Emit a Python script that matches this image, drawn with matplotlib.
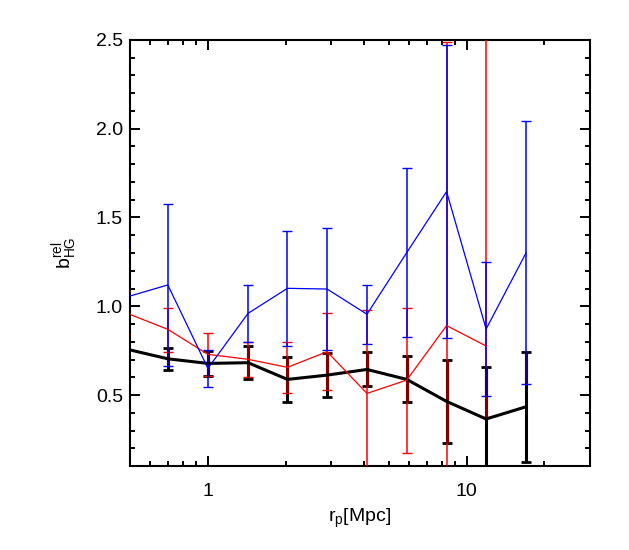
import numpy as np
import matplotlib
matplotlib.use('Agg')
import matplotlib.pyplot as plt
from matplotlib.ticker import FixedLocator, MultipleLocator, LogLocator, NullFormatter

plt.rcParams['font.family'] = ['Liberation Sans', 'DejaVu Sans']

# projected separation bins [Mpc]
rp = [0.48, 0.70, 1.00, 1.43, 2.03, 2.89, 4.12, 5.87, 8.37, 11.9, 17.0]

# black sample
b_black = [0.760, 0.704, 0.678, 0.682, 0.588, 0.612, 0.644, 0.588, 0.464, 0.365, 0.434]
e_black = [0.06, 0.063, 0.07, 0.092, 0.128, 0.125, 0.096, 0.13, 0.232, 0.295, 0.31]

# red sample (no value in the last bin)
b_red = [0.964, 0.870, 0.729, 0.701, 0.656, 0.744, 0.509, 0.584, 0.891, 0.776]
e_red_lo = [0.12, 0.125, 0.122, 0.102, 0.147, 0.213, 0.47, 0.41, 1.6, 0.4]
e_red_hi = [0.12, 0.119, 0.122, 0.096, 0.141, 0.216, 0.47, 0.408, 1.6, 2.0]

# blue sample
b_blue = [1.050, 1.120, 0.650, 0.960, 1.101, 1.097, 0.955, 1.302, 1.646, 0.872, 1.302]
e_blue = [0.3, 0.455, 0.104, 0.16, 0.325, 0.346, 0.165, 0.475, 0.826, 0.375, 0.742]

fig = plt.figure(figsize=(6.29, 5.5), dpi=100)
ax = fig.add_axes([0.2067, 0.1527, 0.7313, 0.7746])

BLACK_W = 2.2


# darken the part of a coloured bar that lies on top of the thick black bar
def shade_overlap(x, y, lo, hi, dark):
    n = len(y)
    blo = np.array(b_black[:n]) - np.array(e_black[:n])
    bhi = np.array(b_black[:n]) + np.array(e_black[:n])
    top = np.minimum(np.array(y) + np.array(hi), bhi)
    bot = np.maximum(np.array(y) - np.array(lo), blo)
    ok = top > bot
    ax.vlines(np.array(x[:n])[ok], bot[ok], top[ok], colors=[dark], lw=BLACK_W, zorder=5)


ax.errorbar(rp, b_black, yerr=e_black, fmt='none', ecolor='black', elinewidth=BLACK_W,
            capsize=3.4, capthick=2.0, zorder=2)
ax.errorbar(rp[:len(b_red)], b_red, yerr=[e_red_lo, e_red_hi], fmt='none', ecolor='red',
            elinewidth=1.1, capsize=3.4, capthick=1.0, zorder=3)
ax.errorbar(rp, b_blue, yerr=e_blue, fmt='none', ecolor='blue', elinewidth=1.1,
            capsize=3.4, capthick=1.0, zorder=4)
shade_overlap(rp, b_red, e_red_lo, e_red_hi, (0.5, 0, 0))
shade_overlap(rp, b_blue, e_blue, e_blue, (0.1, 0, 0.5))

ax.plot(rp, b_black, color='black', lw=BLACK_W, zorder=6)
ax.plot(rp[:len(b_red)], b_red, color='red', lw=0.9, zorder=7)
ax.plot(rp, b_blue, color='blue', lw=0.9, zorder=8)

ax.set_xscale('log')
ax.set_xlim(0.5, 30)
ax.set_ylim(0.1, 2.5)

ax.xaxis.set_major_locator(FixedLocator([1, 10]))
ax.xaxis.set_minor_locator(LogLocator(base=10, subs=np.arange(2, 10)))
ax.xaxis.set_minor_formatter(NullFormatter())
ax.set_xticklabels(['1', '10'])
ax.yaxis.set_major_locator(FixedLocator([0.5, 1.0, 1.5, 2.0, 2.5]))
ax.yaxis.set_minor_locator(MultipleLocator(0.1))
ax.set_yticklabels(['0.5', '1.0', '1.5', '2.0', '2.5'])

ax.tick_params(which='both', direction='in', top=True, right=True, width=1.4, labelsize=14)
ax.tick_params(which='major', length=7)
ax.tick_params(which='minor', length=3.5)
ax.tick_params(axis='x', which='major', pad=12)
ax.tick_params(axis='y', which='major', pad=5)
for s in ax.spines.values():
    s.set_linewidth(1.5)

ax.set_xlabel(r'$\mathregular{r_p [Mpc]}$', fontsize=14, labelpad=5)
ax.set_ylabel(r'$\mathregular{b^{rel}_{HG}}$', fontsize=14, labelpad=12)

plt.savefig('out.png', dpi=100)
